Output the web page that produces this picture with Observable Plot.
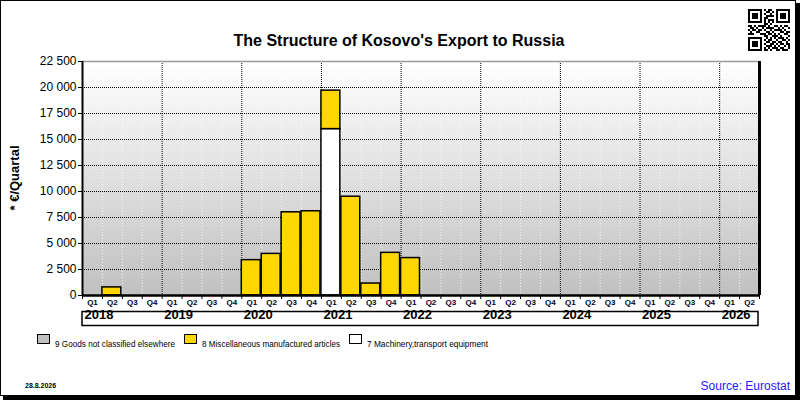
<!DOCTYPE html>
<html>
<head>
<meta charset="utf-8">
<script src="https://cdn.jsdelivr.net/npm/d3@7"></script>
<script src="https://cdn.jsdelivr.net/npm/@observablehq/plot@0.6"></script>
<style>
  html, body { margin: 0; padding: 0; background: #fff; }
  #wrap { position: relative; width: 800px; height: 400px; overflow: hidden; background: #fff;
          font-family: "Liberation Sans", Arial, sans-serif; }
  #wrap > svg { position: absolute; left: 0; top: 0; }
</style>
</head>
<body>
<svg width="0" height="0" style="position:absolute">
  <defs>
    <linearGradient id="bg" x1="0" y1="0" x2="0" y2="1">
      <stop offset="0" stop-color="#ffffff"/>
      <stop offset="1" stop-color="#c0c0c0"/>
    </linearGradient>
  </defs>
</svg>
<div id="wrap"></div>
<script>
// ---- data ----
const years = [2018, 2019, 2020, 2021, 2022, 2023, 2024, 2025, 2026];
const quarterNames = ["Q1", "Q2", "Q3", "Q4"];
const nQuarters = 34; // 2018 Q1 .. 2026 Q2
const seriesNames = [
  "7 Machinery,transport equipment",
  "8 Miscellaneous manufactured articles",
  "9 Goods not classified elsewhere"
];
const legendOrder = [
  "9 Goods not classified elsewhere",
  "8 Miscellaneous manufactured articles",
  "7 Machinery,transport equipment"
];
const seriesColors = ["#ffffff", "#ffd700", "#c0c0c0"];
// values in EUR per quarter, 2018 Q1 .. 2026 Q2
const machinery = [
  0, 0, 0, 0,
  0, 0, 0, 0,
  0, 0, 0, 0,
  16000, 0, 0, 0,
  0, 0, 0, 0,
  0, 0, 0, 0,
  0, 0, 0, 0,
  0, 0, 0, 0,
  0, 0
];
const miscellaneous = [
  0, 780, 0, 0,
  0, 0, 0, 0,
  3400, 4000, 8000, 8100,
  3700, 9500, 1150, 4100,
  3600, 0, 0, 0,
  0, 0, 0, 0,
  0, 0, 0, 0,
  0, 0, 0, 0,
  0, 0
];
const goodsNec = [
  0, 0, 0, 0,
  0, 0, 0, 0,
  0, 0, 0, 0,
  0, 0, 0, 0,
  0, 0, 0, 0,
  0, 0, 0, 0,
  0, 0, 0, 0,
  0, 0, 0, 0,
  0, 0
];
const yTicks = [0, 2500, 5000, 7500, 10000, 12500, 15000, 17500, 20000, 22500];
const titleText = "The Structure of Kosovo's Export to Russia";
const yTitle = "* €/Quartal";
const dateText = "28.8.2026";
const sourceText = "Source: Eurostat";

// ---- build tables ----
const quarters = d3.range(nQuarters).map(i => ({
  i,
  year: years[Math.floor(i / 4)],
  q: quarterNames[i % 4]
}));
const valueSets = [machinery, miscellaneous, goodsNec];
const table = [];
seriesNames.forEach((s, k) => {
  valueSets[k].forEach((v, i) => { if (v > 0) table.push({i, series: s, value: v}); });
});
const yearStarts = years.map((y, k) => ({year: y, x: k * 4}));

const fmt = d => d3.format(",")(d).replace(/,/g, " ");

const chart = Plot.plot({
  width: 800,
  height: 400,
  marginTop: 61,
  marginBottom: 105,
  marginLeft: 82,
  marginRight: 41,
  x: {domain: [0, nQuarters]},
  y: {domain: [0, 22500]},
  color: {domain: seriesNames, range: seriesColors},
  style: {background: "transparent", fontFamily: "'Liberation Sans', Arial, sans-serif", color: "black"},
  marks: [
    Plot.frame({fill: "url(#bg)", stroke: "none"}),
    Plot.ruleX(d3.range(1, nQuarters), {stroke: "white", strokeDasharray: "1,2", strokeOpacity: 0.8}),
    Plot.ruleX(yearStarts.filter(d => d.x > 0), {x: "x", stroke: "black", strokeDasharray: "1,1"}),
    Plot.ruleY(yTicks.filter(d => d > 0 && d < 22500), {stroke: "black", strokeDasharray: "1,1"}),
    Plot.rect(table, Plot.stackY({
      x: "i", x1: "i", x2: d => d.i + 1, y: "value",
      fill: "series", order: seriesNames,
      stroke: "black", strokeWidth: 1.5, insetRight: 1
    })),
    Plot.ruleY([22500], {stroke: "#9a9a9a", strokeWidth: 1.5}),
    Plot.ruleX([0], {stroke: "black", strokeWidth: 2}),
    Plot.ruleX([nQuarters], {stroke: "black", strokeWidth: 3}),
    Plot.ruleY([0], {stroke: "black", strokeWidth: 2.5}),
    Plot.axisY({ticks: yTicks, tickFormat: fmt, tickSize: 4, tickPadding: 2, fontSize: 12, label: null}),
    Plot.axisX({ticks: d3.range(0, nQuarters + 1), tickFormat: () => "", tickSize: 4, label: null}),
    Plot.text(quarters, {x: d => d.i + 0.5, text: "q", frameAnchor: "bottom", dy: 9,
      fontSize: 8, fontWeight: "bold", fill: "#000020"}),
    Plot.text(yearStarts, {x: "x", text: d => String(d.year), frameAnchor: "bottom", dy: 23, dx: 2,
      textAnchor: "start", fontSize: 13, fontWeight: "bold"})
  ]
});
const wrap = document.getElementById("wrap");
wrap.appendChild(chart);

// ---- overlay: frame, title, legend, footer ----
const ov = d3.select(wrap).append("svg")
  .attr("width", 800).attr("height", 400)
  .style("pointer-events", "none")
  .style("font-family", "'Liberation Sans', Arial, sans-serif");

// outer frame with shadow
ov.append("rect").attr("x", 0.5).attr("y", 0.5).attr("width", 795).attr("height", 395)
  .attr("fill", "none").attr("stroke", "#000");
ov.append("rect").attr("x", 796).attr("y", 3).attr("width", 4).attr("height", 397).attr("fill", "#000");
ov.append("rect").attr("x", 3).attr("y", 396).attr("width", 797).attr("height", 4).attr("fill", "#000");

// title
ov.append("text").attr("x", 399).attr("y", 46).attr("text-anchor", "middle")
  .attr("font-size", 16).attr("font-weight", "bold").text(titleText);

// y title
ov.append("text").attr("transform", "translate(19,178) rotate(-90)").attr("text-anchor", "middle")
  .attr("font-size", 13).attr("font-weight", "bold").attr("fill", "#000").text(yTitle);

// year box
ov.append("rect").attr("x", 82).attr("y", 311.5).attr("width", 676).attr("height", 14)
  .attr("fill", "none").attr("stroke", "#000").attr("stroke-width", 1.5);

// legend
const legendX = [37.5, 184.5, 349.5];
const legendTextWidth = [120, 138, 121];
legendOrder.forEach((s, k) => {
  const c = seriesColors[seriesNames.indexOf(s)];
  ov.append("rect").attr("x", legendX[k]).attr("y", 334.5).attr("width", 12).attr("height", 9)
    .attr("fill", c).attr("stroke", "#000");
  ov.append("text").attr("x", legendX[k] + 17.5).attr("y", 347).attr("font-size", 9)
    .attr("textLength", legendTextWidth[k]).attr("lengthAdjust", "spacingAndGlyphs").text(s);
});

// footer
ov.append("text").attr("x", 25).attr("y", 388).attr("font-size", 7).attr("font-weight", "bold").text(dateText);
ov.append("text").attr("x", 790).attr("y", 390).attr("text-anchor", "end").attr("font-size", 12)
  .attr("fill", "#1a1aff").text(sourceText);

// QR-like badge (decorative)
const qr = [
  "111111101011001111111",
  "100000100110101000001",
  "101110101001001011101",
  "101110100111101011101",
  "101110101100001011101",
  "100000101011101000001",
  "111111101010101111111",
  "000000001101000000000",
  "110101111010011010110",
  "011010010111100101001",
  "101101101001011110100",
  "010011000110100011011",
  "111000111011010100110",
  "000000001100111010001",
  "111111100101010111010",
  "100000101011001001101",
  "101110100110110110010",
  "101110101001101011011",
  "101110100111010100101",
  "100000101010111011001",
  "111111101101001101110"
];
let p = "";
qr.forEach((row, r) => row.split("").forEach((ch, c) => {
  if (ch === "1") p += `M${748 + c * 2},${9 + r * 2}h2v2h-2z`;
}));
ov.append("path").attr("d", p).attr("fill", "#000");
</script>
</body>
</html>
